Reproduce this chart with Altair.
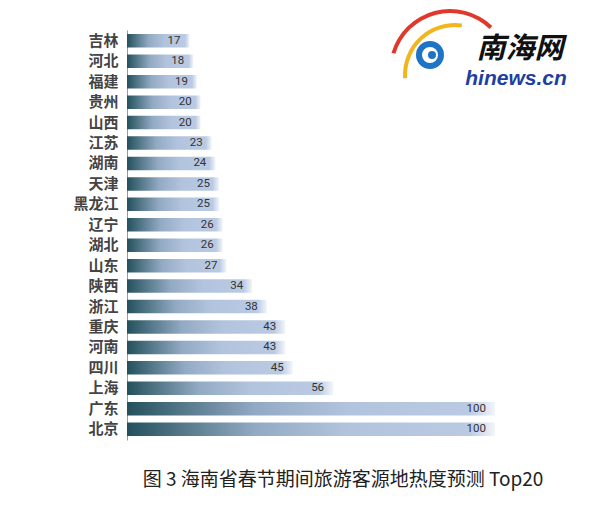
import altair as alt
import pandas as pd

provinces = ["吉林", "河北", "福建", "贵州", "山西", "江苏", "湖南", "天津", "黑龙江", "辽宁",
             "湖北", "山东", "陕西", "浙江", "重庆", "河南", "四川", "上海", "广东", "北京"]
values = [17, 18, 19, 20, 20, 23, 24, 25, 25, 26, 26, 27, 34, 38, 43, 43, 45, 56, 100, 100]
title_text = "图 3  海南省春节期间旅游客源地热度预测 Top20"

df = pd.DataFrame({"province": provinces, "value": values})

FONT = "Noto Sans CJK SC"

grad = alt.Gradient(
    gradient="linear", x1=0, x2=1, y1=0, y2=0,
    stops=[
        alt.GradientStop(offset=0, color="#24505d"),
        alt.GradientStop(offset=0.12, color="#4a7080"),
        alt.GradientStop(offset=0.35, color="#93aac4"),
        alt.GradientStop(offset=0.6, color="#b2c3dd"),
        alt.GradientStop(offset=0.93, color="#bacae3"),
        alt.GradientStop(offset=1, color="#f2f5fa"),
    ],
)

y_enc = alt.Y("province:N", sort=provinces, title=None,
              scale=alt.Scale(paddingInner=0.34, paddingOuter=0.2),
              axis=alt.Axis(labelFont=FONT, labelFontSize=15, labelFontWeight="bold",
                            labelColor="#444444", ticks=False, grid=False,
                            domainColor="#9a9a9a", domainWidth=1, labelPadding=9))
x_enc = alt.X("value:Q", scale=alt.Scale(domain=[0, 125]), axis=None, title=None)

bars = alt.Chart(df).mark_bar(color=grad, cornerRadius=0).encode(x=x_enc, y=y_enc)

labels = alt.Chart(df).mark_text(align="right", dx=-9, font="Roboto", fontSize=11.5,
                                 color="#333333").encode(
    x=x_enc, y=alt.Y("province:N", sort=provinces), text="value:Q")

title = alt.Chart(pd.DataFrame({"t": [title_text]})).mark_text(
    font=FONT, fontSize=19, fontWeight="normal", color="#222222", align="center",
    baseline="alphabetic"
).encode(x=alt.value(216), y=alt.value(456), text="t:N")

# logo
red_arc = alt.Chart(pd.DataFrame({"a": [0]})).mark_arc(
    color="#e0392b", radius=61, radius2=57, theta=5.0, theta2=7.05
).encode(x=alt.value(323), y=alt.value(40))
yellow_arc = alt.Chart(pd.DataFrame({"a": [0]})).mark_arc(
    color="#f2b51c", radius=52, radius2=48, theta=4.65, theta2=6.42
).encode(x=alt.value(328), y=alt.value(45))
swirl = alt.Chart(pd.DataFrame({"a": [0]})).mark_arc(
    color="#1f74c6", radius=14, radius2=8, theta=0, theta2=6.2832
).encode(x=alt.value(303), y=alt.value(25))
swirl_dot = alt.Chart(pd.DataFrame({"a": [0]})).mark_arc(
    color="#1f74c6", radius=4, theta=0, theta2=6.2832
).encode(x=alt.value(305), y=alt.value(25))
logo_cn = alt.Chart(pd.DataFrame({"t": ["南海网"]})).mark_text(
    font=FONT, fontSize=29, fontWeight="bold", fontStyle="italic", color="#111111",
    align="center", baseline="alphabetic"
).encode(x=alt.value(393), y=alt.value(28), text="t:N")
logo_en = alt.Chart(pd.DataFrame({"t": ["hinews.cn"]})).mark_text(
    font="Liberation Sans", fontSize=21, fontWeight="bold", fontStyle="italic",
    color="#1e3f9e", align="center", baseline="alphabetic"
).encode(x=alt.value(389), y=alt.value(55), text="t:N")
box = alt.Chart(pd.DataFrame({"a": [0]})).mark_rect(
    fill="white", stroke="#555555", strokeWidth=1
).encode(x=alt.value(360), x2=alt.value(428), y=alt.value(-40), y2=alt.value(-23))

chart = alt.layer(bars, labels, title, red_arc, yellow_arc, swirl, swirl_dot,
                  logo_cn, logo_en, box).properties(
    width=460, height=410,
    autosize=alt.AutoSizeParams(type="none"),
    padding={"left": 119, "top": 22, "right": 5, "bottom": 60},
).configure(background="white").configure_view(stroke=None)

chart.save("out.html", embed_options={"renderer": "svg", "actions": False})
